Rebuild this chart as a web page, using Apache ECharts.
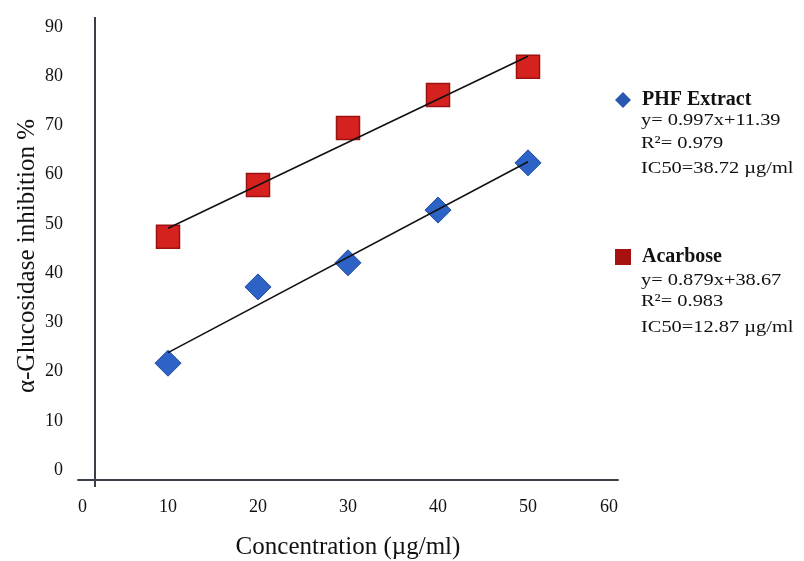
<!DOCTYPE html>
<html>
<head>
<meta charset="utf-8">
<script src="https://cdn.jsdelivr.net/npm/echarts@6/dist/echarts.min.js"></script>
<style>
  html, body { margin: 0; padding: 0; background: #fff; }
  #chart { width: 804px; height: 561px; }
</style>
</head>
<body>
<div id="chart"></div>
<script>
// concentration (µg/ml)
const concentration = [10, 20, 30, 40, 50]
// α-glucosidase inhibition %
const phfExtract = [21.7, 37.2, 42.1, 52.8, 62.4]
const acarbose = [47.4, 57.9, 69.5, 76.2, 81.9]

const phfNotes = ['y= 0.997x+11.39', 'R²= 0.979', 'IC50=38.72 µg/ml']
const acarboseNotes = ['y= 0.879x+38.67', 'R²= 0.983', 'IC50=12.87 µg/ml']

const serif = '"Liberation Serif", "DejaVu Serif", serif'

// linear trend line through the points
const trend = (xs, ys) => {
  const n = xs.length
  const mx = xs.reduce((a, b) => a + b, 0) / n
  const my = ys.reduce((a, b) => a + b, 0) / n
  let sxy = 0
  let sxx = 0
  xs.forEach((x, i) => {
    sxy += (x - mx) * (ys[i] - my)
    sxx += (x - mx) * (x - mx)
  })
  const k = sxy / sxx
  const b = my - k * mx
  const x0 = xs[0]
  const x1 = xs[n - 1]
  return [[x0, k * x0 + b], [x1, k * x1 + b]]
}

const pairs = (ys) => concentration.map((x, i) => [x, ys[i]])

// equation text under each legend entry
const noteText = (lines, rows) =>
  lines.map((t, i) => ({
    type: 'text',
    x: 641,
    y: rows[i],
    scaleX: 1.2,
    style: {
      text: t,
      font: '17px ' + serif,
      verticalAlign: 'middle',
      fill: '#111'
    }
  }))

const myChart = echarts.init(document.getElementById('chart'))

myChart.setOption({
  animation: false,
  backgroundColor: '#fff',
  grid: {
    left: 78,
    right: 186,
    top: 27,
    bottom: 91,
    containLabel: false,
    outerBoundsMode: 'none'
  },
  legend: {
    orient: 'vertical',
    left: 610,
    top: 85,
    itemGap: 137,
    itemWidth: 16,
    itemHeight: 16,
    textStyle: {
      fontFamily: serif,
      fontSize: 20,
      fontWeight: 'bold',
      color: '#111',
      padding: [0, 0, 0, 6]
    },
    data: [
      { name: 'PHF Extract', icon: 'diamond', itemStyle: { color: '#2a58b0', borderWidth: 0 } },
      { name: 'Acarbose', icon: 'rect', itemStyle: { color: '#a5120f', borderWidth: 0 } }
    ]
  },
  graphic: [
    ...noteText(phfNotes, [121, 144, 169]),
    ...noteText(acarboseNotes, [281, 302, 328])
  ],
  xAxis: {
    type: 'value',
    min: 0,
    max: 60,
    interval: 10,
    offset: 10,
    name: 'Concentration (µg/ml)',
    nameLocation: 'middle',
    nameGap: 55,
    nameMoveOverlap: false,
    nameTextStyle: {
      fontFamily: serif,
      fontSize: 25,
      color: '#111'
    },
    axisLine: {
      onZero: false,
      lineStyle: { color: '#3a4048', width: 2 }
    },
    axisTick: { show: false },
    splitLine: { show: false },
    axisLabel: {
      margin: 18,
      fontFamily: serif,
      fontSize: 18,
      color: '#111',
      alignMinLabel: 'left',
      alignMaxLabel: 'right'
    }
  },
  yAxis: {
    type: 'value',
    min: 0,
    max: 90,
    interval: 10,
    offset: -17,
    name: 'α-Glucosidase inhibition %',
    nameLocation: 'middle',
    nameGap: 55,
    nameMoveOverlap: false,
    nameTextStyle: {
      fontFamily: serif,
      fontSize: 25,
      color: '#111',
      padding: [0, 15, 0, 0]
    },
    axisLine: {
      show: true,
      onZero: false,
      symbol: ['rect', 'rect'],
      symbolSize: [2, 34],
      symbolOffset: [0, -7],
      lineStyle: { color: '#3a4048', width: 2 }
    },
    axisTick: { show: false },
    splitLine: { show: false },
    axisLabel: {
      margin: 32,
      fontFamily: serif,
      fontSize: 18,
      color: '#111'
    }
  },
  series: [
    {
      name: 'PHF Extract',
      type: 'scatter',
      symbol: 'diamond',
      symbolSize: 26,
      itemStyle: { color: '#2d62c6', borderColor: '#1f4a9e', borderWidth: 1, opacity: 1 },
      data: pairs(phfExtract)
    },
    {
      name: 'Acarbose',
      type: 'scatter',
      symbol: 'rect',
      symbolSize: 23,
      itemStyle: { color: '#d6221f', borderColor: '#9a1212', borderWidth: 1.5, opacity: 1 },
      data: pairs(acarbose)
    },
    {
      name: 'PHF trend',
      type: 'line',
      showSymbol: false,
      z: 5,
      lineStyle: { color: '#111', width: 1.6 },
      data: trend(concentration, phfExtract)
    },
    {
      name: 'Acarbose trend',
      type: 'line',
      showSymbol: false,
      z: 5,
      lineStyle: { color: '#111', width: 1.6 },
      data: trend(concentration, acarbose)
    }
  ]
})
</script>
</body>
</html>
